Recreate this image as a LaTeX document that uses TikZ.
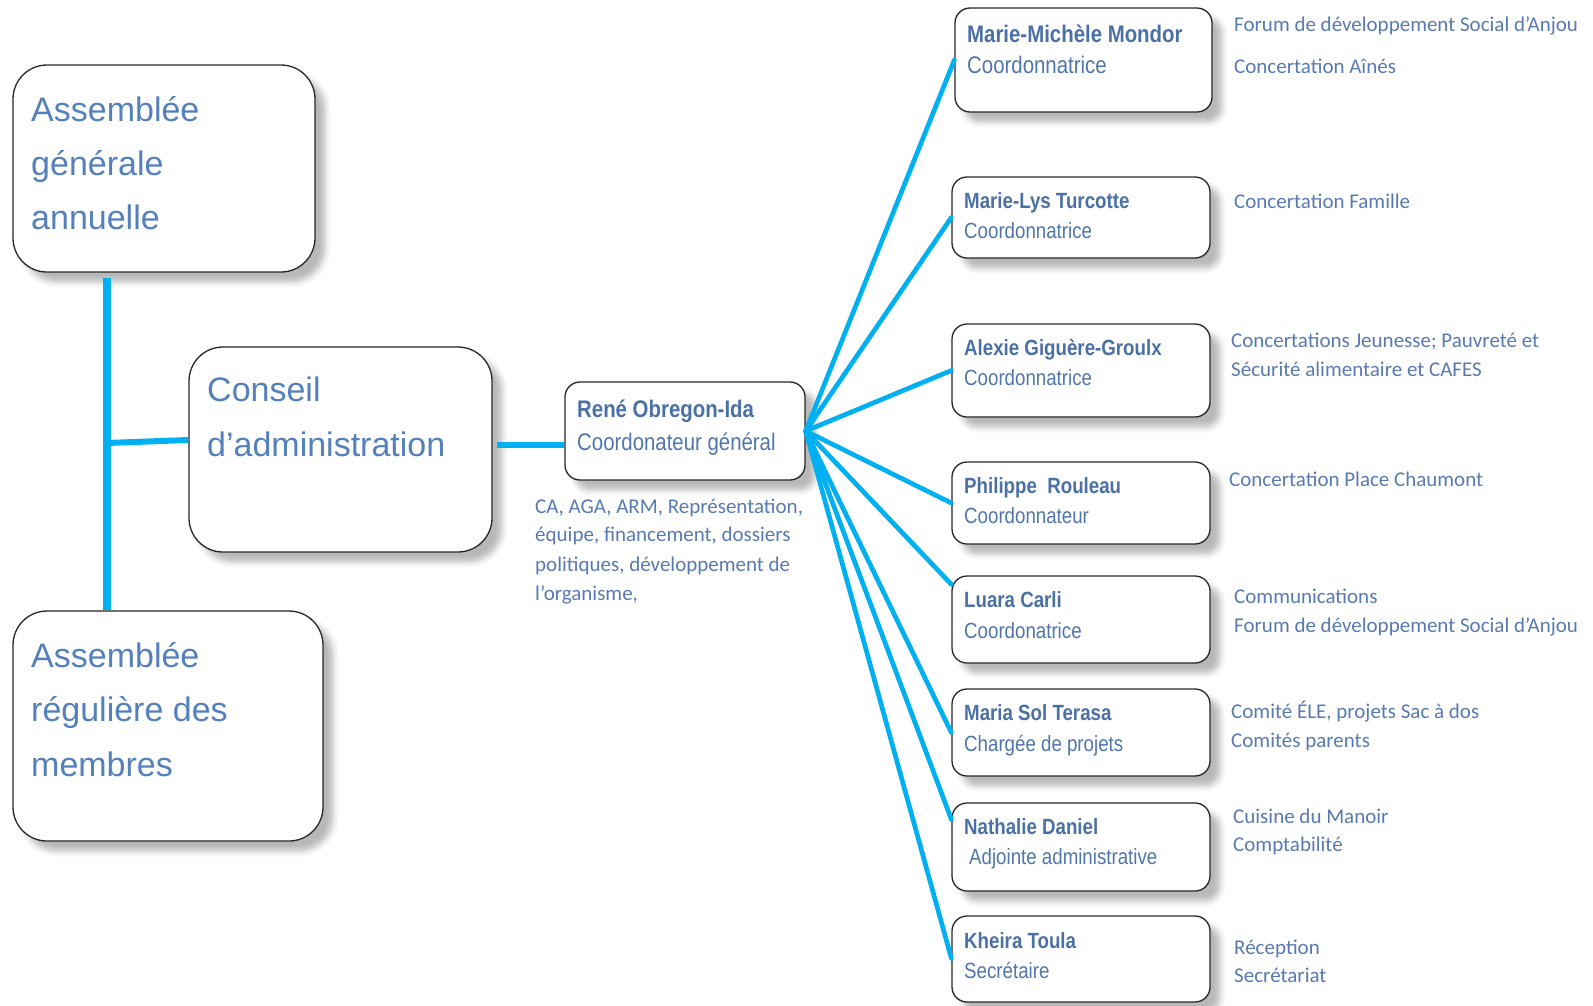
\documentclass[tikz,border=0pt]{standalone}
\usepackage{fontspec}
\setmainfont{Liberation Sans}
\newfontfamily\narrowfont{Liberation Sans}[FakeStretch=0.85]
\newfontfamily\calfont{Carlito}
\usetikzlibrary{shadows.blur}
\definecolor{bigblue}{RGB}{84,128,188}
\definecolor{nameblue}{RGB}{74,112,166}
\definecolor{roleblue}{RGB}{80,118,172}
\definecolor{sideblue}{RGB}{88,122,176}
\definecolor{linkcyan}{RGB}{0,176,240}
\begin{document}
\begin{tikzpicture}[x=1pt,y=-1pt,
  boxbase/.style={draw=black!85, line width=1.3pt, fill=white, inner sep=0pt,
    blur shadow={shadow xshift=10pt, shadow yshift=-10pt, shadow blur radius=6pt, shadow opacity=28}},
  bigbox/.style={boxbase, rounded corners=34pt},
  smallbox/.style={boxbase, rounded corners=15pt, minimum width=258pt},
  bigtxt/.style={font=\fontsize{34}{40}\selectfont, text=bigblue, anchor=base west, inner sep=0pt},
  nametxt/.style={font=\narrowfont\bfseries\fontsize{22}{26}\selectfont, text=nameblue, anchor=base west, inner sep=0pt},
  roletxt/.style={font=\narrowfont\fontsize{22}{26}\selectfont, text=roleblue, anchor=base west, inner sep=0pt},
  largetxt/.style={font=\narrowfont\fontsize{24}{28}\selectfont},
  largename/.style={font=\narrowfont\bfseries\fontsize{24}{28}\selectfont},
  sidetxt/.style={font=\calfont\fontsize{21}{25}\selectfont, text=sideblue, anchor=base west, inner sep=0pt},
  trunk/.style={draw=linkcyan, line width=8pt},
  branch/.style={draw=linkcyan, line width=6pt},
  fan/.style={draw=linkcyan, line width=4.7pt, line cap=round}
]
\useasboundingbox (0,0) rectangle (1593,1005);

% left boxes
\node[bigbox, minimum width=302pt, minimum height=207pt] (aga) at (164,168.5) {};
\node[bigbox, minimum width=303pt, minimum height=205pt] (ca) at (340.5,449.5) {};
\node[bigbox, minimum width=310pt, minimum height=230pt] (arm) at (168,726) {};
\node[smallbox, rounded corners=15pt, minimum width=240pt, minimum height=98pt] (rene) at (685,431) {};

% right boxes
\node[smallbox, minimum width=257pt, minimum height=104pt] (mm) at (1083.5,60) {};
\node[smallbox, minimum height=81pt] (ml) at (1081,217.5) {};
\node[smallbox, minimum height=93pt] (ag) at (1081,370.5) {};
\node[smallbox, minimum height=82pt] (pr) at (1081,503) {};
\node[smallbox, minimum height=87pt] (lc) at (1081,619.5) {};
\node[smallbox, minimum height=87pt] (ms) at (1081,732.5) {};
\node[smallbox, minimum height=88pt] (nd) at (1081,847) {};
\node[smallbox, minimum height=86pt] (kt) at (1081,959) {};

% connectors (left)
\coordinate (trtop) at ([yshift=-5pt]aga.south -| 107,0);
\coordinate (trbot) at (arm.north -| 107,0);
\coordinate (trmid) at (107,443);
\coordinate (cain) at (ca.west |- 0,440);
\draw[trunk] (trtop) -- (trbot);
\draw[branch] (trmid) -- (cain);
\coordinate (caout) at ([xshift=4pt]ca.east |- 0,445);
\draw[branch] (caout) -- (caout -| rene.west);

% fan
\draw[fan] (rene.east) -- (mm.west);
\draw[fan] (rene.east) -- (ml.west);
\draw[fan] (rene.east) -- (ag.west);
\draw[fan] (rene.east) -- (pr.west);
\draw[fan] (rene.east) -- ([yshift=-9pt]lc.north west);
\draw[fan] (rene.east) -- (ms.west);
\draw[fan] (rene.east) -- ([yshift=-17pt]nd.north west);
\draw[fan] (rene.east) -- ([yshift=-43pt]kt.north west);

% big box texts
\node[bigtxt] (aga1) at (31,121) {Assemblée};
\node[bigtxt] (aga2) at (31,175) {générale};
\node[bigtxt] (aga3) at (31,229) {annuelle};
\node[bigtxt] (ca1) at (207,401) {Conseil};
\node[bigtxt] (ca2) at (207,456) {d’administration};
\node[bigtxt] (arm1) at (31,667) {Assemblée};
\node[bigtxt] (arm2) at (31,721) {régulière des};
\node[bigtxt] (arm3) at (31,776) {membres};

% René
\node[nametxt, largename] (rn) at (577,417) {René Obregon-Ida};
\node[roletxt, largetxt] (rr) at (577,450) {Coordonateur général};
\node[sidetxt] (d1) at (535,513) {CA, AGA, ARM, Représentation,};
\node[sidetxt] (d2) at (535,541) {équipe, financement, dossiers};
\node[sidetxt] (d3) at (535,571) {politiques, développement de};
\node[sidetxt] (d4) at (535,600) {l’organisme,};

% names and roles
\node[nametxt, largename] (n1) at (967,42) {Marie-Michèle Mondor};
\node[roletxt, largetxt] (r1) at (967,73) {Coordonnatrice};
\node[nametxt] (n2) at (964,208) {Marie-Lys Turcotte};
\node[roletxt] (r2) at (964,238) {Coordonnatrice};
\node[nametxt] (n3) at (964,355) {Alexie Giguère-Groulx};
\node[roletxt] (r3) at (964,385) {Coordonnatrice};
\node[nametxt] (n4) at (964,493) {Philippe\ \ Rouleau};
\node[roletxt] (r4) at (964,523) {Coordonnateur};
\node[nametxt] (n5) at (964,607) {Luara Carli};
\node[roletxt] (r5) at (964,638) {Coordonatrice};
\node[nametxt] (n6) at (964,720) {Maria Sol Terasa};
\node[roletxt] (r6) at (964,751) {Chargée de projets};
\node[nametxt] (n7) at (964,834) {Nathalie Daniel};
\node[roletxt] (r7) at (969,864) {Adjointe administrative};
\node[nametxt] (n8) at (964,948) {Kheira Toula};
\node[roletxt] (r8) at (964,978) {Secrétaire};

% side texts
\node[sidetxt] (s1a) at (1234,31) {Forum de développement Social d’Anjou};
\node[sidetxt] (s1b) at (1234,73) {Concertation Aînés};
\node[sidetxt] (s2a) at (1234,208) {Concertation Famille};
\node[sidetxt] (s3a) at (1231,347) {Concertations Jeunesse; Pauvreté et};
\node[sidetxt] (s3b) at (1231,376) {Sécurité alimentaire et CAFES};
\node[sidetxt] (s4a) at (1229,486) {Concertation Place Chaumont};
\node[sidetxt] (s5a) at (1234,603) {Communications};
\node[sidetxt] (s5b) at (1234,632) {Forum de développement Social d’Anjou};
\node[sidetxt] (s6a) at (1231,718) {Comité ÉLE, projets Sac à dos};
\node[sidetxt] (s6b) at (1231,747) {Comités parents};
\node[sidetxt] (s7a) at (1233,823) {Cuisine du Manoir};
\node[sidetxt] (s7b) at (1233,851) {Comptabilité};
\node[sidetxt] (s8a) at (1234,954) {Réception};
\node[sidetxt] (s8b) at (1234,982) {Secrétariat};
\end{tikzpicture}
\end{document}
